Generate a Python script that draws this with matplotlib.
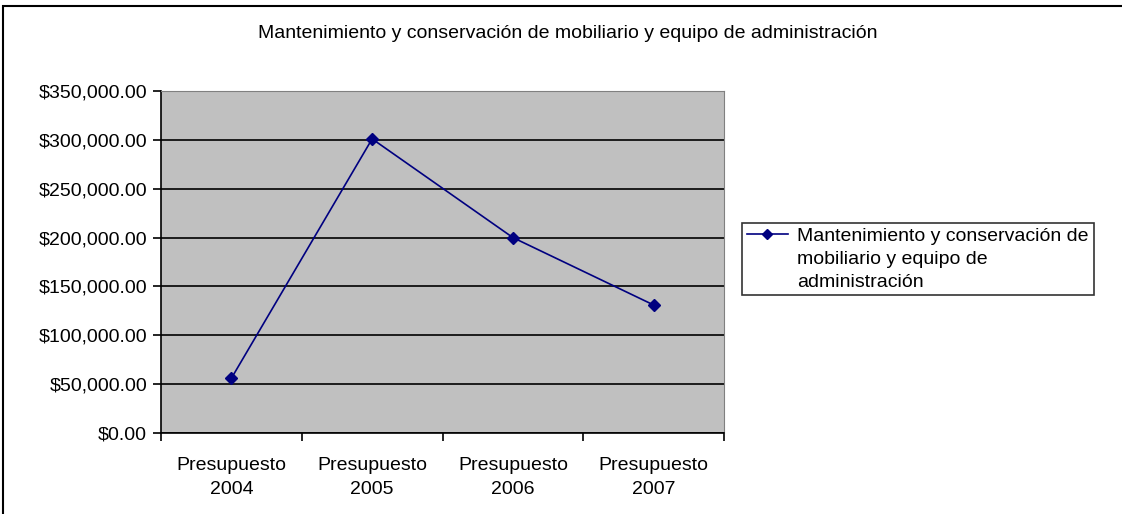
import numpy as np
import matplotlib.pyplot as plt
from matplotlib.patches import Rectangle
from matplotlib.lines import Line2D
from matplotlib.legend_handler import HandlerLine2D

plt.rcParams['font.family'] = ['Liberation Sans', 'DejaVu Sans']

categorias = ['Presupuesto\n2004', 'Presupuesto\n2005', 'Presupuesto\n2006', 'Presupuesto\n2007']
valores = [56000, 301000, 200000, 131000]
y_ticks = [0, 50000, 100000, 150000, 200000, 250000, 300000, 350000]
titulo = 'Mantenimiento y conservación de mobiliario y equipo de administración'
serie = 'Mantenimiento y conservación de\nmobiliario y equipo de\nadministración'


class FirstLineHandler(HandlerLine2D):
    # put the legend key next to the first line of a multi-line label
    def create_artists(self, legend, orig_handle, xdescent, ydescent, width, height, fontsize, trans):
        return super().create_artists(legend, orig_handle, xdescent, ydescent - 36,
                                      width, height, fontsize, trans)


fig = plt.figure(figsize=(11.22, 5.14), dpi=100)
ax = fig.add_axes([161/1122, 1 - 433/514, (724 - 161)/1122, (433 - 91)/514])

# outer chart border
fig.patches.append(Rectangle((3/1122, -0.01), 1.02, 1 - 6/514 + 0.01, transform=fig.transFigure,
                             fill=False, edgecolor='black', linewidth=1.5))

ax.set_facecolor('#C0C0C0')
x = np.arange(len(categorias))
ax.plot(x, valores, color='#000080', marker='D', markersize=6, linewidth=1.2)

ax.set_xlim(-0.5, len(categorias) - 0.5)
ax.set_ylim(0, 350000)
ax.set_yticks(y_ticks)
ax.set_yticklabels(['${:,.2f}'.format(v) for v in y_ticks], fontsize=14)
ax.yaxis.grid(True, color='black', linewidth=1.2)
ax.set_axisbelow(True)

ax.set_xticks(x)
ax.set_xticklabels(categorias, fontsize=14, linespacing=1.6)
ax.set_xticks(np.arange(-0.5, len(categorias)), minor=True)
ax.tick_params(axis='x', which='major', length=0, pad=17)
ax.tick_params(axis='x', which='minor', length=6, width=1.2, direction='out')
ax.tick_params(axis='y', length=6, width=1.2, direction='out', pad=4)

for s in ['top', 'right']:
    ax.spines[s].set_color('#808080')
for s in ['left', 'bottom']:
    ax.spines[s].set_color('black')
    ax.spines[s].set_linewidth(1.2)

fig.text(568/1122, 1 - 33/514, titulo, ha='center', va='center', fontsize=14)

handle = Line2D([], [], color='#000080', marker='D', markersize=5, linewidth=1.2)
leg = fig.legend([handle], [serie], loc='upper left', bbox_to_anchor=(742/1122, 1 - 223/514),
                 fontsize=14, frameon=True, fancybox=False, edgecolor='black',
                 handlelength=2.1, handletextpad=0.5, borderpad=0.25, borderaxespad=0,
                 handler_map={Line2D: FirstLineHandler()})
leg.get_frame().set_linewidth(1.2)
for t in leg.get_texts():
    t.set_linespacing(1.45)

fig.savefig('out.png', dpi=100)
